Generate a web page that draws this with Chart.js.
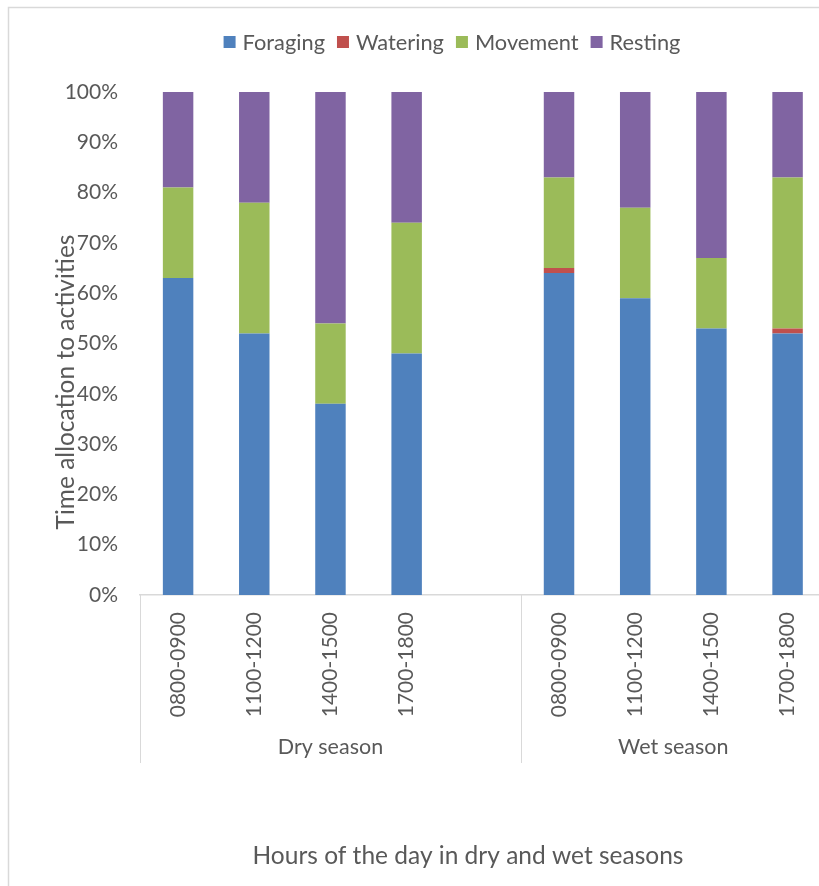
<!DOCTYPE html>
<html>
<head>
<meta charset="utf-8">
<script src="https://cdn.jsdelivr.net/npm/chart.js@4/dist/chart.umd.min.js"></script>
<style>
  html, body { margin: 0; padding: 0; background: #fff; overflow: hidden; }
  #wrap { width: 819px; height: 886px; overflow: hidden; position: relative; }
  canvas { display: block; }
</style>
</head>
<body>
<div id="wrap"><canvas id="c" width="830" height="886"></canvas></div>
<script>
// ---- Data ----
const hours = ['0800-0900', '1100-1200', '1400-1500', '1700-1800', '', '0800-0900', '1100-1200', '1400-1500', '1700-1800'];
const seasons = ['Dry season', 'Wet season'];
const seasonSpans = [[0, 4], [5, 8]]; // category index ranges for each season group
const seriesNames = ['Foraging', 'Watering', 'Movement', 'Resting'];
const foraging = [63, 52, 38, 48, null, 64, 59, 53, 52];
const watering = [0, 0, 0, 0, null, 1, 0, 0, 1];
const movement = [18, 26, 16, 26, null, 18, 18, 14, 30];
const resting  = [19, 22, 46, 26, null, 17, 23, 33, 17];
const yTicks = [0, 10, 20, 30, 40, 50, 60, 70, 80, 90, 100];
const yTitle = 'Time allocation to activities';
const xTitle = 'Hours of the day in dry and wet seasons';

const colors = ['#4F81BD', '#C0504D', '#9BBB59', '#8064A2'];
const textColor = '#595959';
const lineColor = '#D9D9D9';
const FONT = 'Lato, "Open Sans", sans-serif';

const seriesValues = [foraging, watering, movement, resting];

const framePlugin = {
  id: 'frame',
  beforeDraw(chart) {
    const ctx = chart.ctx;
    ctx.save();
    ctx.fillStyle = '#fff';
    ctx.fillRect(0, 0, chart.width, chart.height);
    ctx.strokeStyle = lineColor;
    ctx.lineWidth = 1.5;
    ctx.beginPath();
    ctx.moveTo(8.5, chart.height);
    ctx.lineTo(8.5, 7.5);
    ctx.lineTo(chart.width, 7.5);
    ctx.stroke();
    ctx.restore();
  },
  afterDraw(chart) {
    const ctx = chart.ctx;
    const xs = chart.scales.x;
    const area = chart.chartArea;
    const half = (xs.getPixelForValue(1) - xs.getPixelForValue(0)) / 2;
    ctx.save();
    // group separators
    ctx.strokeStyle = lineColor;
    ctx.lineWidth = 1;
    const bounds = [];
    seasonSpans.forEach(([a, b]) => {
      bounds.push(xs.getPixelForValue(a) - half, xs.getPixelForValue(b) + half);
    });
    const uniq = [...new Set(bounds.map(v => Math.round(v)))];
    uniq.forEach(x => {
      ctx.beginPath();
      ctx.moveTo(x + 0.5, area.bottom);
      ctx.lineTo(x + 0.5, 763);
      ctx.stroke();
    });
    // group labels
    ctx.fillStyle = textColor;
    ctx.font = '21.5px ' + FONT;
    ctx.textAlign = 'center';
    ctx.textBaseline = 'middle';
    seasonSpans.forEach(([a, b], i) => {
      const left = xs.getPixelForValue(a) - half;
      const right = xs.getPixelForValue(b) + half;
      ctx.fillText(seasons[i], (left + right) / 2, 747);
    });
    // x title
    ctx.font = '24.5px ' + FONT;
    ctx.fillText(xTitle, 468, 856);
    // y title
    ctx.save();
    ctx.translate(66, 382);
    ctx.rotate(-Math.PI / 2);
    ctx.fillText(yTitle, 0, 0);
    ctx.restore();
    // legend
    ctx.font = '21.8px ' + FONT;
    ctx.textAlign = 'left';
    const box = 12, gapBox = 7, gapItem = 12;
    const widths = seriesNames.map(n => ctx.measureText(n).width);
    const total = widths.reduce((s, w) => s + box + gapBox + w, 0) + gapItem * (seriesNames.length - 1);
    let x = 452 - total / 2;
    const ly = 42;
    seriesNames.forEach((n, i) => {
      ctx.fillStyle = colors[i];
      ctx.fillRect(x, ly - box / 2, box, box);
      ctx.fillStyle = textColor;
      ctx.fillText(n, x + box + gapBox, ly + 1);
      x += box + gapBox + widths[i] + gapItem;
    });
    ctx.restore();
  }
};

new Chart(document.getElementById('c'), {
  type: 'bar',
  data: {
    labels: hours,
    datasets: seriesNames.map((n, i) => ({
      label: n,
      data: seriesValues[i],
      backgroundColor: colors[i],
      borderWidth: 0,
      categoryPercentage: 1.0,
      barPercentage: 0.4
    }))
  },
  options: {
    responsive: false,
    animation: false,
    devicePixelRatio: 1,
    layout: { padding: { top: 92, left: 0, right: 4, bottom: 0 } },
    plugins: {
      legend: { display: false },
      tooltip: { enabled: false },
      title: { display: false }
    },
    scales: {
      x: {
        stacked: true,
        grid: { display: false, drawTicks: false },
        border: { display: true, color: lineColor, width: 1.5 },
        ticks: {
          autoSkip: false,
          minRotation: 90,
          maxRotation: 90,
          padding: 17,
          color: textColor,
          font: { family: FONT, size: 21 }
        },
        afterFit(s) { s.height = 886 - 595; }
      },
      y: {
        stacked: true,
        min: 0,
        max: 100,
        afterBuildTicks(s) { s.ticks = yTicks.map(v => ({ value: v })); },
        grid: { display: false, drawTicks: false },
        border: { display: false },
        ticks: {
          padding: 22,
          color: textColor,
          font: { family: FONT, size: 21 },
          callback: v => v + '%'
        },
        afterFit(s) { s.width = 140; }
      }
    }
  },
  plugins: [framePlugin]
});
</script>
</body>
</html>
